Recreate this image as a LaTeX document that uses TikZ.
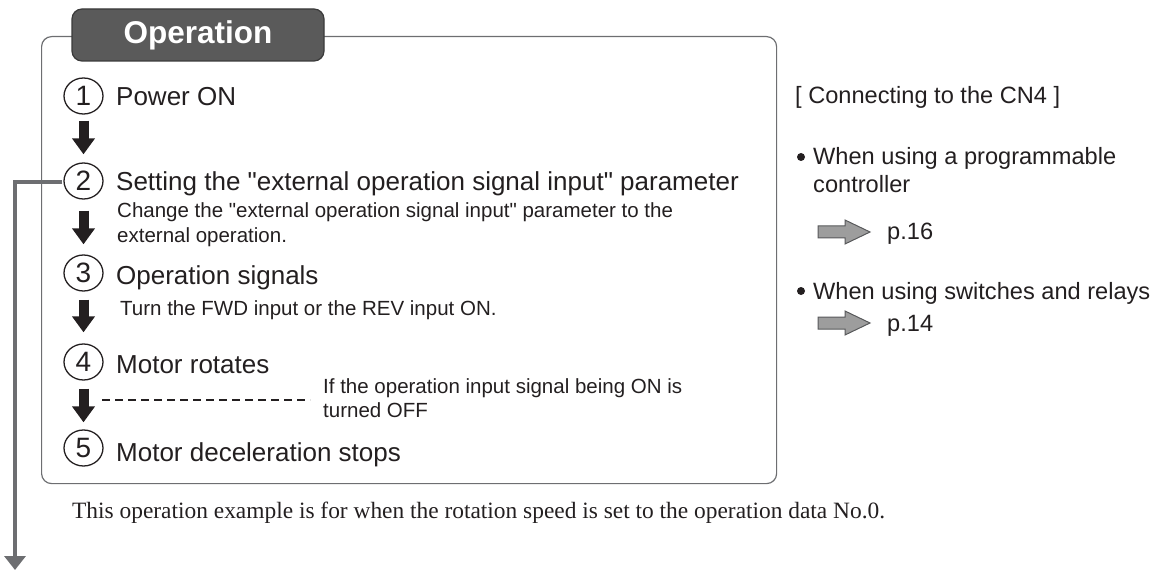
\documentclass[tikz,border=0pt]{standalone}
\usepackage{fontspec}
\setmainfont{Liberation Sans}[Ligatures=TeXOff]
\newfontfamily\seriffont{Liberation Serif}
\usetikzlibrary{arrows.meta,shapes.geometric}
\definecolor{ink}{HTML}{231F20}
\definecolor{frame}{HTML}{6D6E71}
\definecolor{tabfill}{HTML}{5A5A5A}
\definecolor{tabedge}{HTML}{3A3A3A}
\definecolor{garrow}{HTML}{6D6E71}
\definecolor{blockfill}{HTML}{9D9D9D}
\definecolor{blockedge}{HTML}{58595B}
\begin{document}
\begin{tikzpicture}[x=1pt,y=-1pt,
  num/.style={ellipse, draw=ink, line width=1.3pt, minimum width=39pt, minimum height=36pt,
    inner sep=0pt, text=ink, font=\fontsize{28}{28}\selectfont},
  item/.style={anchor=base west, inner sep=0pt, text=ink, font=\fontsize{26}{30}\selectfont},
  sub/.style={anchor=base west, inner sep=0pt, text=ink, font=\fontsize{20.5}{24}\selectfont},
  rtext/.style={anchor=base west, inner sep=0pt, text=ink, font=\fontsize{23.6}{28}\selectfont},
  bulletdot/.style={circle, fill=ink, inner sep=0pt, minimum size=8pt},
  blk/.style={draw=ink, line width=10pt, -{Triangle[width=22pt,length=16pt]}},
  grayflow/.style={draw=garrow, line width=4pt, -{Triangle[width=21pt,length=14pt]}},
  blockarrow/.style={fill=blockfill, draw=blockedge, line width=1pt, line join=miter},
  dashline/.style={draw=ink, line width=1.5pt, dash pattern=on 8pt off 5pt},
]
\useasboundingbox (0,0) rectangle (1157,572);

% frame
\node[draw=frame, line width=1.2pt, rounded corners=10pt, minimum width=735pt,
  minimum height=447pt, anchor=north west, inner sep=0pt] (box) at (41,36) {};
\node[fill=tabfill, draw=tabedge, line width=1.2pt, rounded corners=10pt,
  minimum width=252pt, minimum height=52pt, inner sep=0pt, text=white,
  font=\bfseries\fontsize{31.5}{32}\selectfont] (tab) at (198,35) {Operation};

% steps
\node[num] (c1) at (83.5,96) {1};
\node[num] (c2) at (83.5,181) {2};
\node[num] (c3) at (83.5,273) {3};
\node[num] (c4) at (83.5,362) {4};
\node[num] (c5) at (83.5,448) {5};

\node[item] (t1) at (116,106) {Power ON};
\node[item] (t2) at (116,191) {Setting the "external operation signal input" parameter};
\node[sub] (s2a) at (117,218) {Change the "external operation signal input" parameter to the};
\node[sub] (s2b) at (117,243) {external operation.};
\node[item] (t3) at (116,284) {Operation signals};
\node[sub] (s3) at (120,316) {Turn the FWD input or the REV input ON.};
\node[item] (t4) at (116,373) {Motor rotates};
\node[sub] (s4a) at (323,393) {If the operation input signal being ON is};
\node[sub] (s4b) at (323,417) {turned OFF};
\node[item] (t5) at (116,461) {Motor deceleration stops};

\draw[blk, shorten <=6pt, shorten >=8pt] (c1) -- (c2);
\draw[blk, shorten <=11pt, shorten >=10pt] (c2) -- (c3);
\draw[blk, shorten <=8pt, shorten >=11pt] (c3) -- (c4);
\draw[blk, shorten <=8pt, shorten >=7pt] (c4) -- (c5);

\coordinate (dashL) at (102,400);
\coordinate (dashR) at (310,400);
\draw[dashline] (dashL) -- (dashR);

% side flow arrow
\coordinate (gtip) at (15,570);
\draw[grayflow] ([xshift=-1pt,yshift=-1pt]c2.west) -| (gtip);

% footer
\node[anchor=base west, inner sep=0pt, text=ink,
  font=\seriffont\fontsize{23.4}{28}\selectfont] (note) at (72,518)
  {This operation example is for when the rotation speed is set to the operation data No.0.};

% right panel
\node[rtext] (hdr) at (795,104) {[ Connecting to the CN4 ]};
\node[bulletdot] (b1) at (801,157) {};
\node[rtext] (w1) at (813,165) {When using a programmable};
\node[rtext] (w1b) at (813,193) {controller};
\draw[blockarrow] (818,226) -- (845,226) -- (845,220) -- (870,232) -- (845,244) -- (845,238) -- (818,238) -- cycle;
\node[rtext] (p16) at (887,240) {p.16};
\node[bulletdot] (b2) at (801,291) {};
\node[rtext] (w2) at (813,299) {When using switches and relays};
\draw[blockarrow] (818,317) -- (845,317) -- (845,311) -- (870,323) -- (845,335) -- (845,329) -- (818,329) -- cycle;
\node[rtext] (p14) at (887,331) {p.14};
\end{tikzpicture}
\end{document}
